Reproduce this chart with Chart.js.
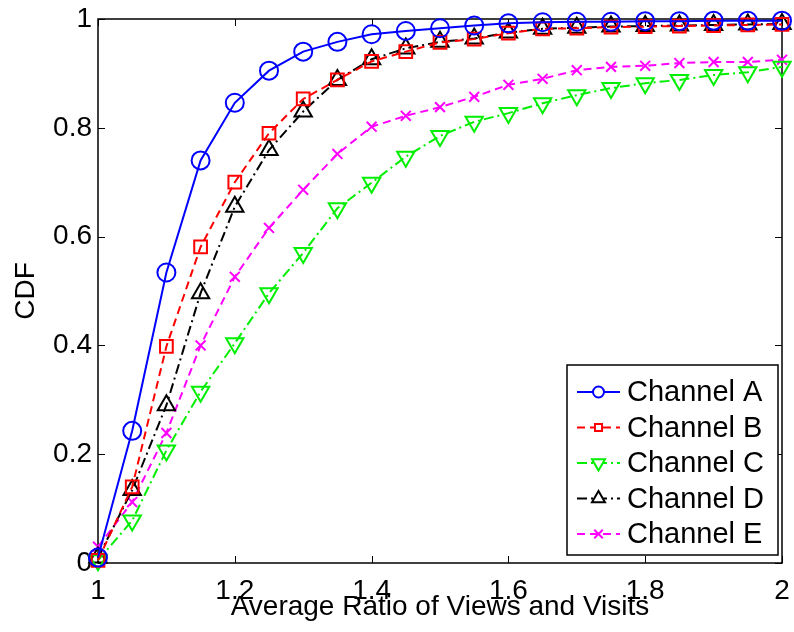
<!DOCTYPE html>
<html>
<head>
<meta charset="utf-8">
<script src="https://cdn.jsdelivr.net/npm/chart.js@4.4.0/dist/chart.umd.min.js"></script>
<style>
  html, body { margin: 0; padding: 0; background: #fff; }
</style>
</head>
<body>
<canvas id="cdfChart" width="794" height="632"></canvas>
<script>
// Data
const ratios = [1.00, 1.05, 1.10, 1.15, 1.20, 1.25, 1.30, 1.35, 1.40, 1.45, 1.50,
                1.55, 1.60, 1.65, 1.70, 1.75, 1.80, 1.85, 1.90, 1.95, 2.00];
const channelA = [0.010, 0.243, 0.534, 0.740, 0.846, 0.905, 0.940, 0.958, 0.972, 0.978, 0.983,
                  0.988, 0.992, 0.994, 0.995, 0.995, 0.996, 0.996, 0.997, 0.997, 0.997];
const channelB = [0.005, 0.140, 0.398, 0.581, 0.700, 0.790, 0.853, 0.888, 0.922, 0.940, 0.957,
                  0.963, 0.974, 0.982, 0.983, 0.985, 0.986, 0.987, 0.988, 0.989, 0.990];
const channelC = [0.005, 0.078, 0.207, 0.315, 0.404, 0.496, 0.570, 0.652, 0.699, 0.747, 0.785,
                  0.811, 0.827, 0.845, 0.860, 0.873, 0.882, 0.888, 0.897, 0.902, 0.912];
const channelD = [0.010, 0.134, 0.290, 0.496, 0.655, 0.759, 0.830, 0.888, 0.926, 0.946, 0.958,
                  0.964, 0.975, 0.982, 0.984, 0.986, 0.987, 0.988, 0.989, 0.990, 0.991];
const channelE = [0.030, 0.112, 0.239, 0.400, 0.526, 0.616, 0.686, 0.752, 0.802, 0.822, 0.838,
                  0.857, 0.879, 0.890, 0.906, 0.912, 0.914, 0.919, 0.921, 0.921, 0.925];
const seriesNames = ["Channel A", "Channel B", "Channel C", "Channel D", "Channel E"];
const xTicks = [1, 1.2, 1.4, 1.6, 1.8, 2];
const yTicks = [0, 0.2, 0.4, 0.6, 0.8, 1];

const FONT = "'Liberation Sans', Arial, Helvetica, sans-serif";

function toPoints(values) {
    return values.map((v, i) => ({ x: ratios[i], y: v }));
}

function makeSet(label, values, color, style, dash, radius, rotation) {
    return {
        label: label,
        data: toPoints(values),
        borderColor: color,
        borderWidth: 2,
        borderDash: dash,
        pointStyle: style,
        pointRadius: radius,
        pointRotation: rotation || 0,
        pointBorderColor: color,
        pointBackgroundColor: "rgba(0,0,0,0)",
        pointBorderWidth: 2,
        tension: 0,
        clip: false
    };
}

const datasets = [
    makeSet(seriesNames[0], channelA, "#0000ff", "circle", [], 9),
    makeSet(seriesNames[1], channelB, "#ff0000", "rect", [8, 5], 9),
    makeSet(seriesNames[2], channelC, "#00ee00", "triangle", [10, 4, 2, 4], 10, 180),
    makeSet(seriesNames[3], channelD, "#000000", "triangle", [10, 4, 2, 4], 10),
    makeSet(seriesNames[4], channelE, "#ff00ff", "crossRot", [8, 5], 7)
];

// Box frame with inward ticks (MATLAB style)
const framePlugin = {
    id: "frame",
    beforeDatasetsDraw(chart) {
        const { ctx, chartArea: a, scales } = chart;
        ctx.save();
        ctx.strokeStyle = "#000";
        ctx.lineWidth = 1.5;
        ctx.strokeRect(a.left, a.top, a.right - a.left, a.bottom - a.top);
        ctx.lineWidth = 1;
        const len = 7;
        ctx.beginPath();
        xTicks.forEach(t => {
            const px = Math.round(scales.x.getPixelForValue(t)) + 0.5;
            ctx.moveTo(px, a.bottom); ctx.lineTo(px, a.bottom - len);
            ctx.moveTo(px, a.top); ctx.lineTo(px, a.top + len);
        });
        yTicks.forEach(t => {
            const py = Math.round(scales.y.getPixelForValue(t)) + 0.5;
            ctx.moveTo(a.left, py); ctx.lineTo(a.left + len, py);
            ctx.moveTo(a.right, py); ctx.lineTo(a.right - len, py);
        });
        ctx.stroke();
        ctx.restore();
    }
};

// Legend box inside the plot, lower right
const legendPlugin = {
    id: "boxLegend",
    afterDatasetsDraw(chart) {
        const ctx = chart.ctx;
        const box = { left: 567, top: 365, right: 778, bottom: 555 };
        ctx.save();
        ctx.fillStyle = "#fff";
        ctx.fillRect(box.left, box.top, box.right - box.left, box.bottom - box.top);
        ctx.strokeStyle = "#000";
        ctx.lineWidth = 1.5;
        ctx.strokeRect(box.left, box.top, box.right - box.left, box.bottom - box.top);

        const rowH = 35.5;
        chart.data.datasets.forEach((ds, i) => {
            const y = box.top + 27 + i * rowH;
            ctx.save();
            ctx.strokeStyle = ds.borderColor;
            ctx.lineWidth = 2;
            ctx.setLineDash(ds.borderDash);
            ctx.beginPath();
            ctx.moveTo(577, y);
            ctx.lineTo(620, y);
            ctx.stroke();
            ctx.setLineDash([]);
            ctx.fillStyle = "#fff";
            Chart.helpers.drawPoint(ctx, {
                pointStyle: ds.pointStyle,
                radius: ds.pointStyle === "circle" ? 5.5 : (ds.pointStyle === "rect" ? 5 : (ds.pointStyle === "crossRot" ? 6 : 7.5)),
                rotation: ds.pointRotation,
                borderWidth: 2
            }, 598.5, y);
            ctx.restore();

            ctx.fillStyle = "#000";
            ctx.font = "29px " + FONT;
            ctx.textBaseline = "middle";
            ctx.textAlign = "left";
            ctx.fillText(ds.label, 627, y + 1);
        });
        ctx.restore();
    }
};

const chart = new Chart(document.getElementById("cdfChart"), {
    type: "line",
    data: { datasets: datasets },
    options: {
        responsive: false,
        animation: false,
        layout: { padding: { left: 0, right: 8, top: 19, bottom: 0 } },
        plugins: {
            legend: { display: false },
            tooltip: { enabled: false }
        },
        scales: {
            x: {
                type: "linear",
                min: 1,
                max: 2,
                afterBuildTicks: (scale) => { scale.ticks = xTicks.map(v => ({ value: v })); },
                afterFit: (scale) => {
                    scale.height = 69;
                    scale.paddingLeft = 0;
                    scale.paddingRight = 0;
                },
                grid: { display: false, drawTicks: false },
                border: { display: false },
                ticks: {
                    color: "#000",
                    padding: 11,
                    font: { family: FONT, size: 28 },
                    callback: (v) => String(Number(v.toFixed(1)))
                },
                title: {
                    display: true,
                    text: "Average Ratio of Views and Visits",
                    color: "#000",
                    font: { family: FONT, size: 28 },
                    padding: { top: 0, bottom: 8 }
                }
            },
            y: {
                type: "linear",
                min: 0,
                max: 1,
                afterBuildTicks: (scale) => { scale.ticks = yTicks.map(v => ({ value: v })); },
                afterFit: (scale) => {
                    scale.width = 98;
                    scale.paddingTop = 0;
                    scale.paddingBottom = 0;
                },
                grid: { display: false, drawTicks: false },
                border: { display: false },
                ticks: {
                    color: "#000",
                    padding: 6,
                    font: { family: FONT, size: 28 },
                    callback: (v) => String(Number(v.toFixed(1)))
                },
                title: {
                    display: true,
                    text: "CDF",
                    color: "#000",
                    font: { family: FONT, size: 28 },
                    padding: { top: 9, bottom: 0 }
                }
            }
        }
    },
    plugins: [framePlugin, legendPlugin]
});
</script>
</body>
</html>
